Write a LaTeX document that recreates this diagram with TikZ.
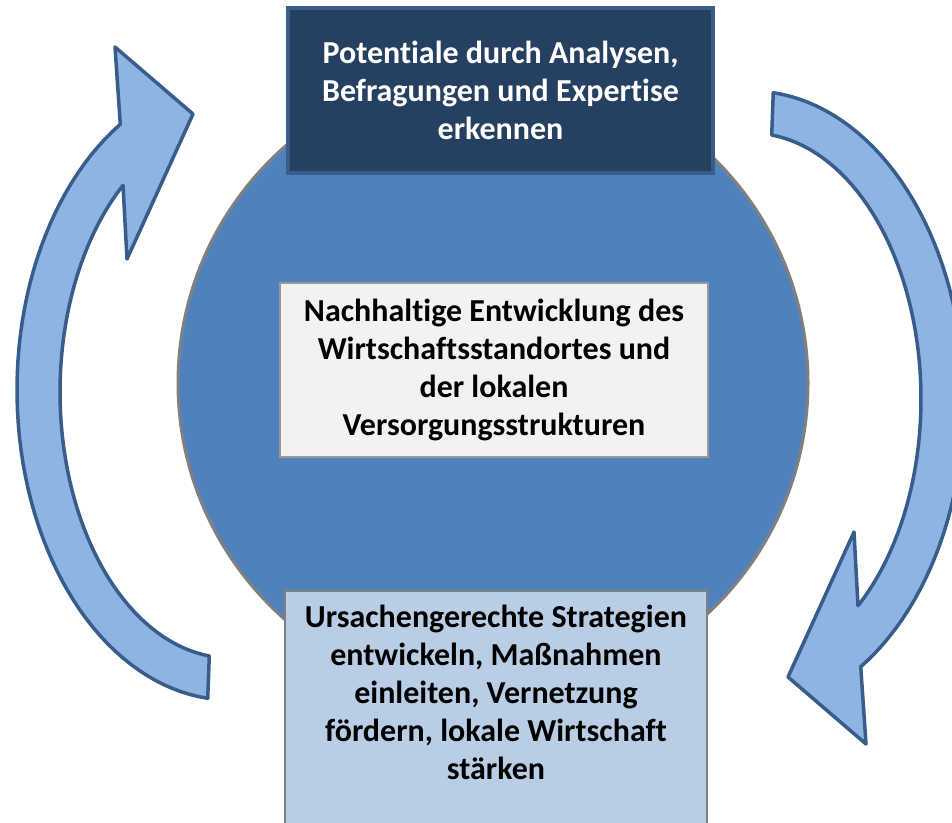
\documentclass[tikz,border=0pt]{standalone}
\usepackage{fontspec}
\setmainfont{Carlito}[Ligatures=NoCommon,Contextuals=NoAlternate]
\definecolor{kreisblau}{HTML}{4F81BD}
\definecolor{dunkelblau}{HTML}{264061}
\definecolor{randblau}{HTML}{385D8A}
\definecolor{pfeilblau}{HTML}{8EB4E3}
\definecolor{hellblau}{HTML}{B9CDE5}
\definecolor{hellgrau}{HTML}{F2F2F2}

\begin{document}
\begin{tikzpicture}[x=1pt,y=-1pt]
\tikzstyle{pfeil}=[fill=pfeilblau,draw=randblau,line width=3.5pt,line join=round]
\tikzset{kasten/.style={draw,align=center,inner sep=0pt,
  font=\fontsize{32}{38}\selectfont\bfseries},
kreis/.style={circle,draw=gray,line width=3pt,fill=kreisblau,minimum size=630}}
\useasboundingbox (0,0) rectangle (952,822);
\clip (0,0) rectangle (952,822);

\node[kreis] (mitte) at (493,383) {};

% die beiden Kreispfeile
\foreach \w in {0,180}{
\begin{scope}[rotate around={\w:(490.5,395.5)}]
\draw[pfeil] plot[domain=96:239,samples=60] ({230+213*cos(\x)},{390+310*sin(\x)})
  -- (115,47) -- (193,114) -- (127,259)
  -- plot[domain=231:97,samples=60] ({230+170*cos(\x)},{392+266*sin(\x)}) -- cycle;
\end{scope}
}

\node[kasten,draw=randblau,line width=3.5pt,fill=dunkelblau,text=white,
  minimum width=425,minimum height=165] (potential) at (500.5,90.5)
  {Potentiale durch Analysen,\\Befragungen und Expertise\\erkennen};
\node[kasten,draw=gray!80,line width=1.5pt,fill=hellgrau,
  minimum width=428,minimum height=174] (ziel) at (494,370)
  {Nachhaltige Entwicklung des\\Wirtschaftsstandortes und\\der lokalen\\Versorgungsstrukturen};
\node[kasten,draw=gray,line width=2pt,fill=hellblau,anchor=north,
  minimum width=422,minimum height=260] (strategie) at (496,590) {};
\node[kasten,draw=none,anchor=north] (strategietext) at (496,605)
  {Ursachengerechte Strategien\\entwickeln, Maßnahmen\\einleiten, Vernetzung\\fördern, lokale Wirtschaft\\stärken};

\end{tikzpicture}
\end{document}
